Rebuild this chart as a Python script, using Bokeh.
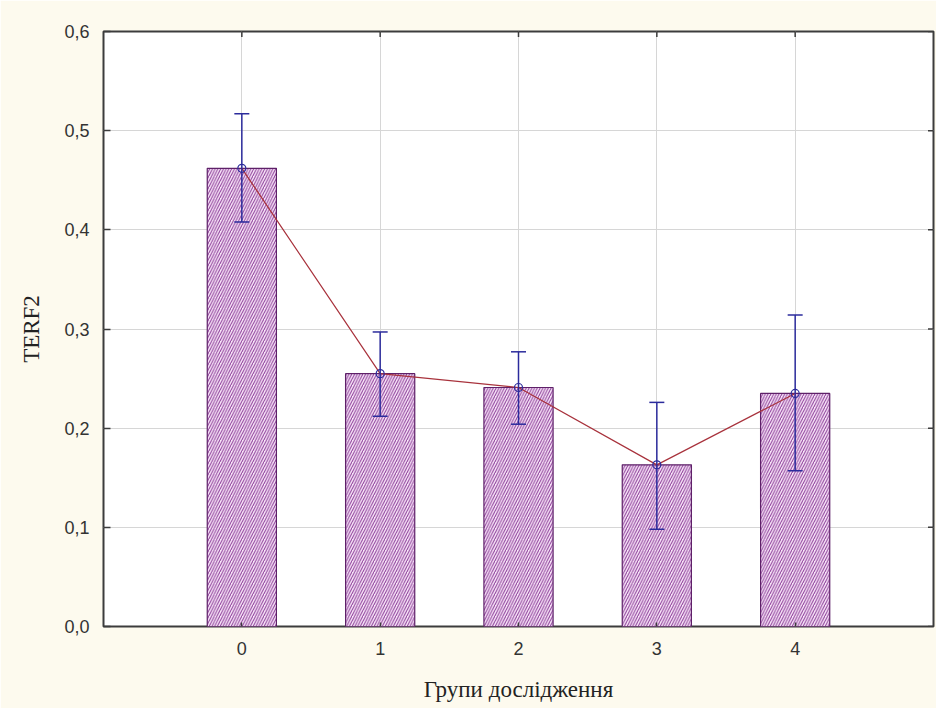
import math
from bokeh.plotting import figure
from bokeh.models import ColumnDataSource, Whisker, TeeHead, FixedTicker, Range1d
from bokeh.embed import file_html
from bokeh.resources import INLINE

groups = [0, 1, 2, 3, 4]
group_labels = ["0", "1", "2", "3", "4"]
means = [0.462, 0.255, 0.241, 0.163, 0.235]
lower = [0.408, 0.212, 0.204, 0.098, 0.157]
upper = [0.517, 0.297, 0.277, 0.226, 0.314]
y_ticks = [0.0, 0.1, 0.2, 0.3, 0.4, 0.5, 0.6]
y_tick_labels = ["0,0", "0,1", "0,2", "0,3", "0,4", "0,5", "0,6"]
x_min, x_max = -1, 5
y_min, y_max = 0.0, 0.6

src = ColumnDataSource(dict(x=groups, mean=means, lower=lower, upper=upper))

p = figure(width=936, height=708, output_backend="svg", toolbar_location=None,
           x_range=Range1d(x_min, x_max), y_range=Range1d(y_min, y_max),
           min_border_left=103, min_border_top=31, min_border_bottom=82, min_border_right=3)

p.background_fill_color = "white"
p.border_fill_color = "#fdfaee"
p.outline_line_color = "#3c3c3c"
p.outline_line_width = 2

p.vbar(x="x", top="mean", bottom=0, width=0.5, source=src,
       fill_color="#f8e6f8", line_color="#5e2068", line_width=1.2,
       hatch_pattern="/", hatch_color="#8a3a98", hatch_scale=5.5, hatch_weight=1)

p.line(x="x", y="mean", source=src, line_color="#a8323c", line_width=1.2)

w = Whisker(base="x", lower="lower", upper="upper", source=src, level="overlay",
            line_color="#2b2b9c", line_width=1.5,
            upper_head=TeeHead(size=15, line_color="#2b2b9c", line_width=1.5),
            lower_head=TeeHead(size=15, line_color="#2b2b9c", line_width=1.5))
p.add_layout(w)

p.scatter(x="x", y="mean", source=src, marker="circle", size=8,
          line_color="#2b2b9c", line_width=1.2, fill_alpha=0)

# inward tick marks on the top and right frame edges
p.scatter(x=groups, y=[y_max] * len(groups), marker="dash", angle=math.pi / 2,
          size=11, line_color="#3c3c3c", line_width=1.5)
p.scatter(x=[x_max] * len(y_ticks), y=y_ticks, marker="dash",
          size=11, line_color="#3c3c3c", line_width=1.5)

# axes
p.xaxis.ticker = FixedTicker(ticks=groups)
p.xaxis.major_label_overrides = {g: l for g, l in zip(groups, group_labels)}
p.yaxis.ticker = FixedTicker(ticks=y_ticks)
p.yaxis.major_label_overrides = {t: l for t, l in zip(y_ticks, y_tick_labels)}

for ax in (p.xaxis[0], p.yaxis[0]):
    ax.axis_line_color = None
    ax.major_tick_out = 0
    ax.major_tick_line_color = "#3c3c3c"
    ax.major_tick_line_width = 1.5
    ax.minor_tick_line_color = None
    ax.major_label_text_font = "Liberation Sans"
    ax.major_label_text_font_size = "18px"
    ax.major_label_text_color = "#333333"
    ax.axis_label_text_font = "Liberation Serif"
    ax.axis_label_text_font_style = "normal"
    ax.axis_label_text_font_size = "23px"
    ax.axis_label_text_color = "#222222"

p.xaxis.major_tick_in = 4
p.yaxis.major_tick_in = 7
p.xaxis.axis_label = "Групи дослідження"
p.xaxis.major_label_standoff = 15
p.xaxis.axis_label_standoff = 19
p.yaxis.axis_label = "TERF2"
p.yaxis.major_label_standoff = 14
p.yaxis.axis_label_standoff = 17

p.xgrid.ticker = FixedTicker(ticks=groups)
p.ygrid.ticker = FixedTicker(ticks=y_ticks)
p.grid.grid_line_color = "#d6d6d6"
p.grid.grid_line_width = 1

open("out.html", "w").write(file_html(p, INLINE))
